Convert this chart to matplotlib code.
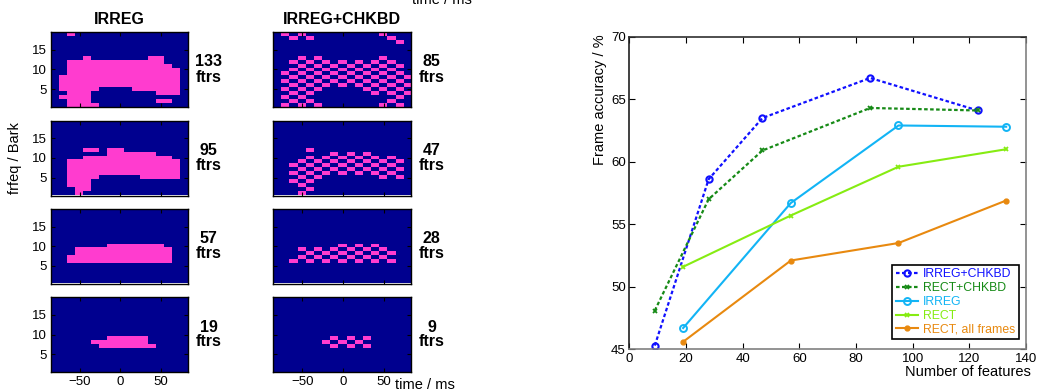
import matplotlib
matplotlib.use('Agg')
import matplotlib.pyplot as plt
import numpy as np
from matplotlib.colors import ListedColormap

plt.rcParams['font.family'] = ['Liberation Sans', 'DejaVu Sans']
plt.rcParams['font.size'] = 9

# --- feature masks (rows: Bark 19 at top -> 1 at bottom, columns: 17 frames) ---
irreg_133 = [
    "..#..............", ".................", ".................", ".................",
    ".................", ".................", "....#.......##...", "..############...",
    "..#############..", "..##############.", "..##############.", ".###############.",
    ".###############.", ".###############.", ".#####....######.", "..###........###.",
    ".####............", "..###........##..", "..####...........",
]
irreg_95 = [
    ".................", ".................", ".................", ".................",
    ".................", ".................", ".................", "....##.##........",
    ".......######....", "....###########..", "..##############.", "..##############.",
    "..##############.", "..##############.", "..####.....#####.", "..###............",
    "..###............", "...##............", "...#.............",
]
irreg_57 = [
    ".................", ".................", ".................", ".................",
    ".................", ".................", ".................", ".................",
    ".................", ".......#######...", "...############..", "...############..",
    "..#############..", "..#############..", ".................", ".................",
    ".................", ".................", ".................",
]
irreg_19 = [
    ".................", ".................", ".................", ".................",
    ".................", ".................", ".................", ".................",
    ".................", ".................", ".......#####.....", ".....#######.....",
    "......#######....", ".................", ".................", ".................",
    ".................", ".................", ".................",
]
chk_85 = [
    ".#.#.........#...", "..#.#.........#..", "...............#.", ".................",
    ".................", ".................", "...#.#.......#...", "..#.#.#.#.#.#.#..",
    "...#.#.#.#.#.#.#.", "..#.#.#.#.#.#.#..", ".#.#.#.#.#.#.#.#.", "..#.#.#.#.#.#.#.#",
    ".#.#.#.#.#.#.#.#.", "..#.#.#.#.#.#.#.#", ".#.#.#.....#.#.#.", "..#.#.......#.#.#",
    ".#.#...........#.", "..#.#.........#..", ".#.#.#.......#.#.",
]
chk_47 = [
    ".................", ".................", ".................", ".................",
    ".................", ".................", ".................", "....#............",
    ".......#.#.#.....", "....#.#.#.#.#.#..", "...#.#.#.#.#.#.#.", "..#.#.#.#.#.#.#..",
    "...#.#.#.#.#.#.#.", "..#.#.#.#.#.#.#..", "...#.#.......#.#.", "..#.#............",
    "...#.............", "....#............", "...#.............",
]
chk_28 = [
    ".................", ".................", ".................", ".................",
    ".................", ".................", ".................", ".................",
    ".................", "........#.#.#....", "...#.#.#.#.#.#...", "....#.#.#.#.#.#..",
    "...#.#.#.#.#.#...", "..#.#.#.#.#.#.#..", ".................", ".................",
    ".................", ".................", ".................",
]
chk_9 = [
    ".................", ".................", ".................", ".................",
    ".................", ".................", ".................", ".................",
    ".................", ".................", ".......#.#.#.....", "......#.#.#......",
    ".......#.#.#.....", ".................", ".................", ".................",
    ".................", ".................", ".................",
]
irreg_masks = [irreg_133, irreg_95, irreg_57, irreg_19]
irreg_counts = [133, 95, 57, 19]
chk_masks = [chk_85, chk_47, chk_28, chk_9]
chk_counts = [85, 47, 28, 9]

# --- accuracy vs number of features ---
irreg_chk_x = [9, 28, 47, 85, 123]
irreg_chk_y = [45.3, 58.6, 63.5, 66.7, 64.1]
rect_chk_x = [9, 28, 47, 85, 123]
rect_chk_y = [48.1, 57.0, 60.9, 64.3, 64.1]
irreg_x = [19, 57, 95, 133]
irreg_y = [46.7, 56.7, 62.9, 62.8]
rect_x = [19, 57, 95, 133]
rect_y = [51.6, 55.7, 59.6, 61.0]
rect_all_x = [19, 57, 95, 133]
rect_all_y = [45.6, 52.1, 53.5, 56.9]

W, H = 1039, 390
fig = plt.figure(figsize=(W / 100, H / 100), dpi=100)
cmap = ListedColormap(['#00008f', '#ff3ccf'])


def px_axes(x0, y0, x1, y1):
    return fig.add_axes([x0 / W, 1 - y1 / H, (x1 - x0) / W, (y1 - y0) / H])


col_x = [(50.7, 187.7), (272.7, 410.7)]
row_y = [(32, 107), (120.5, 195.5), (209, 283.5), (297, 372)]

for ci, (masks, counts) in enumerate([(irreg_masks, irreg_counts), (chk_masks, chk_counts)]):
    for ri, (mask, n) in enumerate(zip(masks, counts)):
        ax = px_axes(col_x[ci][0], row_y[ri][0], col_x[ci][1], row_y[ri][1])
        grid = np.array([[ch == '#' for ch in row] for row in mask], dtype=int)
        ax.imshow(grid, cmap=cmap, vmin=0, vmax=1, aspect='auto', origin='upper',
                  extent=(-86.5, 83.5, 0.5, 19.5), interpolation='nearest')
        ax.set_xlim(-86.5, 83.5)
        ax.set_ylim(0.5, 19.5)
        ax.set_xticks([-50, 0, 50])
        ax.set_yticks([5, 10, 15])
        ax.tick_params(direction='in', top=True, right=True, length=3, width=0.8,
                       labelsize=9.5, pad=3)
        if ci == 1:
            ax.set_yticklabels([])
        if ri < 3:
            ax.set_xticklabels([])
        for sp in ax.spines.values():
            sp.set_linewidth(1.0)
        xc = (col_x[ci][1] + 21) / W
        yc = 1 - (row_y[ri][0] + row_y[ri][1]) / 2 / H
        fig.text(xc, yc, f'{n}\nftrs', ha='center', va='center', fontsize=11.5,
                 fontweight='bold', linespacing=1.0)

fig.text(119 / W, 1 - 20 / H, 'IRREG', ha='center', va='center', fontsize=11.5,
         fontweight='bold')
fig.text(342 / W, 1 - 20 / H, 'IRREG+CHKBD', ha='center', va='center', fontsize=11.5,
         fontweight='bold')
fig.text(15 / W, 1 - 158 / H, 'frfeq / Bark', rotation=90, ha='center', va='center',
         fontsize=10.5)
fig.text(395 / W, 1 - 385 / H, 'time / ms', ha='left', va='center', fontsize=10.5)
fig.text(412 / W, 1 - 4 / H, 'time / ms', ha='left', va='baseline', fontsize=10.5)

# --- right-hand accuracy plot ---
ax = px_axes(629.3, 36.7, 1026, 349.3)
ax.plot(irreg_chk_x, irreg_chk_y, color='#1010ff', ls=(0, (1.6, 1.1)), lw=1.6, marker='o',
        ms=4.5, mfc='none', mew=1.5, label='IRREG+CHKBD')
ax.plot(rect_chk_x, rect_chk_y, color='#168a16', ls=(0, (1.6, 1.1)), lw=1.6, marker='x',
        ms=3.5, mew=1.3, label='RECT+CHKBD')
ax.plot(irreg_x, irreg_y, color='#12b4f5', lw=1.5, marker='o', ms=5, mfc='none', mew=1.4,
        label='IRREG')
ax.plot(rect_x, rect_y, color='#86ec12', lw=1.5, marker='x', ms=3.5, mew=1.3, label='RECT')
ax.plot(rect_all_x, rect_all_y, color='#e8890f', lw=1.5, marker='.', ms=7,
        label='RECT, all frames')
ax.set_xlim(0, 140)
ax.set_ylim(45, 70)
ax.set_xticks(np.arange(0, 141, 20))
ax.set_yticks(np.arange(45, 71, 5))
ax.tick_params(direction='in', top=True, right=True, length=4, width=0.8, labelsize=9.5,
               pad=2.5)
ax.spines['left'].set_color('#202020')
ax.spines['top'].set_color('#303030')
ax.spines['right'].set_color('#808080')
ax.spines['bottom'].set_color('#808080')
for sp in ax.spines.values():
    sp.set_linewidth(1.2)

leg = ax.legend(loc='lower right', bbox_to_anchor=(0.982, 0.032), borderaxespad=0,
                fontsize=8.8, labelcolor='linecolor', fancybox=False, framealpha=1,
                edgecolor='black', handlelength=1.8, handletextpad=0.4, labelspacing=0.15,
                borderpad=0.3)
leg.get_frame().set_linewidth(1.2)

fig.text(600 / W, 1 - 100 / H, 'Frame accuracy / %', rotation=90, ha='center',
         va='center', fontsize=10.5)
fig.text(1031 / W, 1 - 372 / H, 'Number of features', ha='right', va='center',
         fontsize=10.5)

fig.savefig('out.png', dpi=100)
